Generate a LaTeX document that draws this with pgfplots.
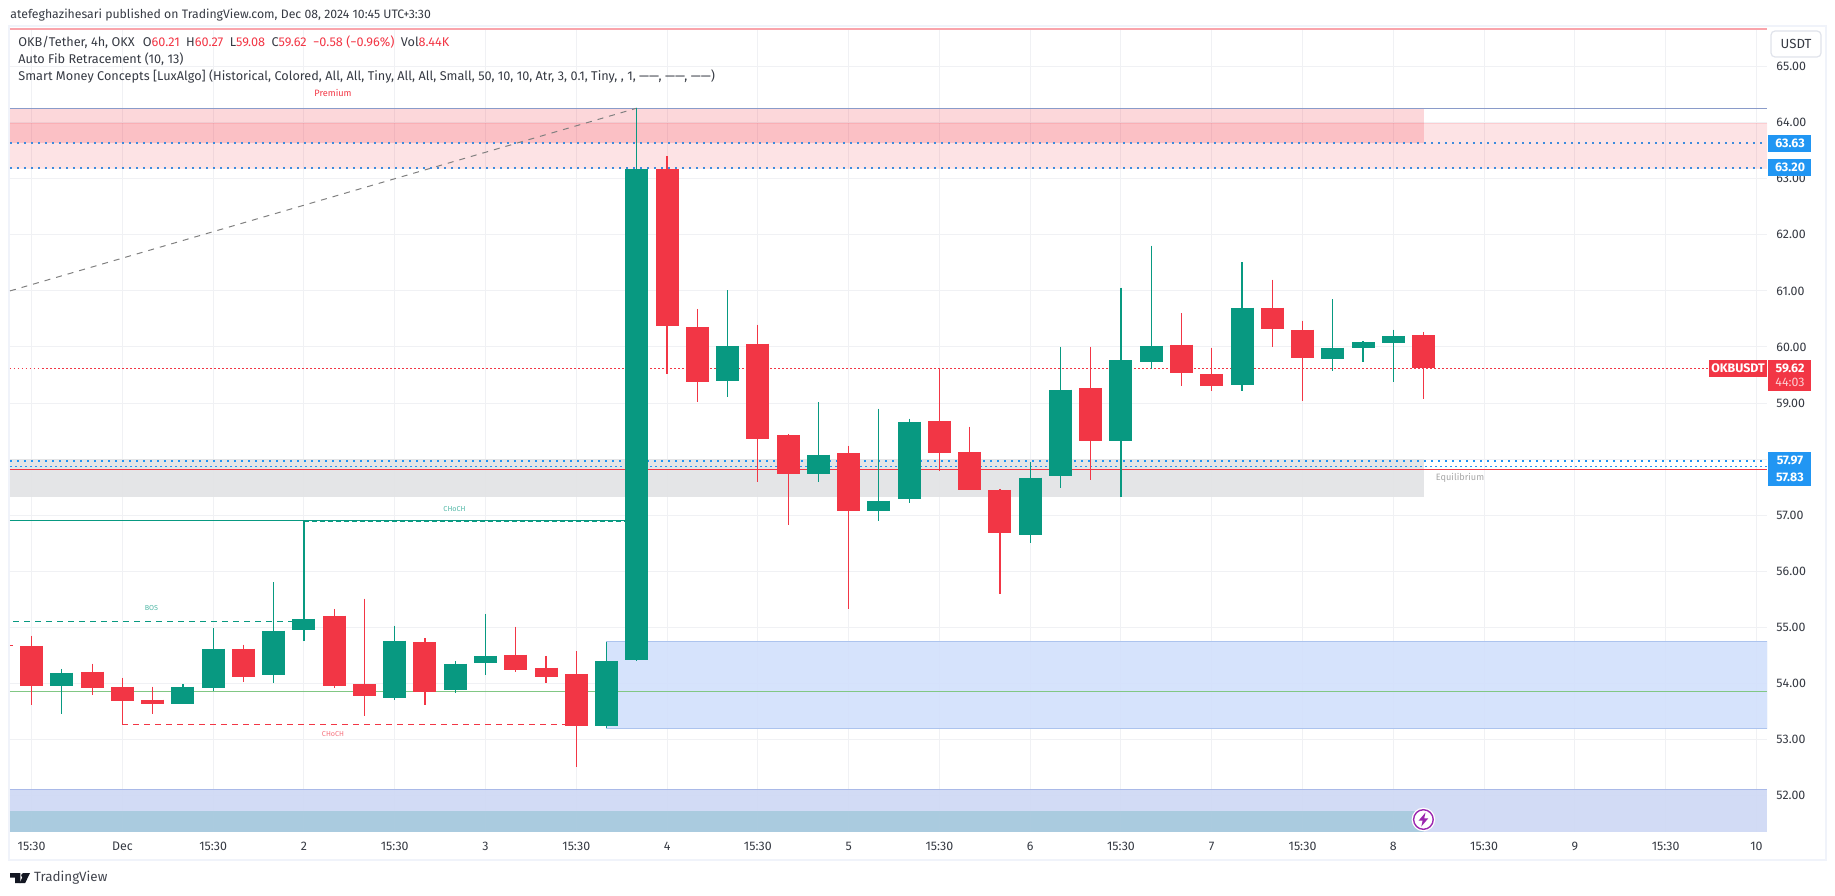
\documentclass[border=0pt]{standalone}
\usepackage{pgfplots}
\usepackage{pgfplotstable}
\usepackage{fontspec}
\pgfplotsset{compat=1.18}
\setmainfont{Fira Sans}

\definecolor{tvgreen}{HTML}{089981}
\definecolor{tvred}{HTML}{F23645}
\definecolor{tvblue}{HTML}{2196F3}
\definecolor{dotblue}{HTML}{3D8BDD}
\definecolor{tvink}{HTML}{131722}
\definecolor{gridc}{HTML}{F0F1F4}
\definecolor{framec}{HTML}{F0F3FA}
\definecolor{btnc}{HTML}{E0E3EB}
\definecolor{zoneblue}{HTML}{D4E1FC}
\definecolor{zoneblueln}{HTML}{ADC4EE}
\definecolor{zonelow}{HTML}{D0D9F4}
\definecolor{zonelowln}{HTML}{A9B9E8}
\definecolor{zoneteal}{HTML}{A9CBDE}
\definecolor{zonegray}{HTML}{E3E4E6}
\definecolor{fibtop}{HTML}{8A9BC9}
\definecolor{lime}{HTML}{81C784}
\definecolor{purp}{HTML}{9C27B0}

\newcommand\fs[1]{\fontsize{#1}{#1}\selectfont}

% bar index, high, low, body top, body bottom
\pgfplotstableread{
i  high  low   top   bot
1  54.26 53.46 54.19 53.95
5  53.98 53.63 53.94 53.63
6  54.98 53.86 54.62 53.91
8  55.80 54.00 54.94 54.14
9  56.89 54.76 55.15 54.95
12 55.03 53.70 54.76 53.73
14 54.40 53.82 54.35 53.88
15 55.24 54.14 54.49 54.36
19 54.74 53.20 54.40 53.23
20 64.26 54.40 63.17 54.42
23 61.01 59.10 60.02 59.39
26 59.01 57.60 58.08 57.74
28 58.90 56.90 57.26 57.08
29 58.72 57.21 58.67 57.28
33 57.95 56.51 57.67 56.65
34 60.00 57.49 59.24 57.69
36 61.06 57.33 59.76 58.33
37 61.81 59.61 60.02 59.74
40 61.51 59.21 60.70 59.33
43 60.85 59.57 59.99 59.78
44 60.10 59.74 60.08 59.98
45 60.31 59.37 60.20 60.07
}\greenbars

\pgfplotstableread{
i  high  low   top   bot
0  54.85 53.62 54.67 53.95
2  54.35 53.80 54.21 53.91
3  54.10 53.27 53.94 53.68
4  53.94 53.46 53.71 53.64
7  54.69 54.02 54.62 54.12
10 55.33 53.91 55.21 53.96
11 55.51 53.41 53.98 53.77
13 54.80 53.61 54.73 53.84
16 55.01 54.21 54.51 54.23
17 54.49 54.00 54.28 54.12
18 54.57 52.50 54.17 53.23
21 63.40 59.51 63.17 60.38
22 60.68 59.01 60.36 59.37
24 60.40 57.60 60.06 58.35
25 58.45 56.83 58.43 57.74
27 58.24 55.32 58.11 57.08
30 59.60 57.78 58.68 58.10
31 58.58 57.44 58.13 57.44
32 57.47 55.60 57.45 56.69
35 60.00 57.62 59.26 58.32
38 60.60 59.30 60.04 59.53
39 59.99 59.21 59.52 59.30
41 61.20 60.00 60.70 60.32
42 60.47 59.03 60.31 59.80
46 60.27 59.08 60.21 59.62
}\redbars

\begin{document}
\begin{tikzpicture}[x=1pt,y=1pt]
\path[use as bounding box] (0,0) rectangle (917.5,447.5);
% pixel coordinates of the screenshot
\begin{scope}[shift={(0,447.5)},x=0.5pt,y=-0.5pt]
  \draw[framec,line width=1pt] (9,26.5) rectangle (1826,860);
\end{scope}

\begin{axis}[
  at={(5pt,31.5pt)},anchor=south west,
  scale only axis,width=878.5pt,height=402pt,
  xmin=-0.714,xmax=57.35,ymin=51.348,ymax=65.69,
  axis line style={draw=none},
  major tick length=0pt,
  grid=major,grid style={gridc,line width=0.5pt},
  xtick={0,3,...,57},
  xticklabels={15:30,Dec,15:30,2,15:30,3,15:30,4,15:30,5,15:30,6,15:30,7,15:30,8,15:30,9,15:30,10},
  ytick={52,...,65},
  yticklabel pos=right,
  /pgf/number format/assume math mode=true,
  /pgf/number format/fixed,/pgf/number format/fixed zerofill,/pgf/number format/precision=2,
  xticklabel style={font=\fs{6.2pt},text=tvink!85,yshift=-1.5pt},
  yticklabel style={font=\fs{6.2pt},text=tvink!85,xshift=1.2pt},
]
% zones
\addplot[fill=tvred,fill opacity=0.2,draw=none] coordinates {(-0.714,64.26)(46,64.26)(46,63.63)(-0.714,63.63)} --cycle;
\addplot[fill=tvred,fill opacity=0.14,draw=tvred,draw opacity=0.12,line width=0.5pt] coordinates {(-0.714,63.99)(57.35,63.99)(57.35,63.19)(-0.714,63.19)} --cycle;
\addplot[fill=zonegray,fill opacity=0.95,draw=none] coordinates {(-0.714,58.00)(46,58.00)(46,57.33)(-0.714,57.33)} --cycle;
\addplot[fill=zoneblue,fill opacity=0.95,draw=zoneblueln,line width=0.5pt] coordinates {(19,54.74)(57.35,54.74)(57.35,53.20)(19,53.20)} --cycle;
\addplot[fill=zonelow,fill opacity=0.95,draw=none] coordinates {(-0.714,52.10)(57.35,52.10)(57.35,51.348)(-0.714,51.348)} --cycle;
\addplot[zonelowln,line width=0.6pt] coordinates {(-0.714,52.10)(57.35,52.10)};
\addplot[fill=zoneteal,fill opacity=0.95,draw=none] coordinates {(-0.714,51.73)(46,51.73)(46,51.348)(-0.714,51.348)} --cycle;

% levels
\addplot[tvred!45,line width=0.8pt] coordinates {(-0.714,65.67)(57.35,65.67)};
\addplot[fibtop,line width=0.6pt] coordinates {(-0.714,64.26)(57.35,64.26)};
\addplot[black!50,line width=0.5pt,dash pattern=on 3pt off 3pt] coordinates {(-0.714,61.00)(20,64.26)};
\addplot[dotblue,line width=1pt,dash pattern=on 1pt off 2.5pt] coordinates {(-0.714,63.63)(57.35,63.63)};
\addplot[dotblue,line width=1pt,dash pattern=on 1pt off 2.5pt] coordinates {(-0.714,63.20)(57.35,63.20)};
\addplot[tvblue,line width=1.1pt,dash pattern=on 1pt off 2.5pt] coordinates {(-0.714,57.97)(57.35,57.97)};
\addplot[tvblue,line width=0.5pt,dash pattern=on 1pt off 1.5pt] coordinates {(-0.714,57.86)(57.35,57.86)};
\addplot[tvred,line width=0.6pt] coordinates {(-0.714,57.82)(57.35,57.82)};
\addplot[tvred,line width=0.5pt,dash pattern=on 0.75pt off 1.25pt] coordinates {(-0.714,59.62)(57.35,59.62)};
\addplot[lime,line width=0.6pt] coordinates {(-0.714,53.85)(57.35,53.85)};

% structure lines
\addplot[tvgreen,line width=0.6pt] coordinates {(-0.714,56.90)(20,56.90)};
\addplot[tvgreen,line width=0.6pt,dash pattern=on 2.5pt off 1.5pt] coordinates {(9,56.88)(20,56.88)};
\addplot[tvgreen,line width=0.5pt,dash pattern=on 3pt off 2.5pt] coordinates {(-0.6,55.10)(9,55.10)};
\addplot[tvred,line width=0.5pt,dash pattern=on 3pt off 2.5pt] coordinates {(3,53.27)(18,53.27)};
\addplot[tvred,line width=0.5pt] coordinates {(-0.714,54.67)(-0.6,54.67)};

% wicks and bodies
\addplot[draw=none,error bars/.cd,y dir=both,y explicit,error mark=none,
  error bar style={tvgreen,line width=0.6pt}]
  table[x=i,y=high,y error plus expr=0,y error minus expr=\thisrow{high}-\thisrow{low}] {\greenbars};
\addplot[draw=none,error bars/.cd,y dir=both,y explicit,error mark=none,
  error bar style={tvred,line width=0.6pt}]
  table[x=i,y=high,y error plus expr=0,y error minus expr=\thisrow{high}-\thisrow{low}] {\redbars};
\addplot[draw=none,error bars/.cd,y dir=both,y explicit,error mark=none,
  error bar style={tvgreen,line width=11.5pt}]
  table[x=i,y=top,y error plus expr=0,y error minus expr=\thisrow{top}-\thisrow{bot}] {\greenbars};
\addplot[draw=none,error bars/.cd,y dir=both,y explicit,error mark=none,
  error bar style={tvred,line width=11.5pt}]
  table[x=i,y=top,y error plus expr=0,y error minus expr=\thisrow{top}-\thisrow{bot}] {\redbars};
\end{axis}

\begin{scope}[shift={(0,447.5)},x=0.5pt,y=-0.5pt]
  % header
  \node[anchor=west,inner sep=0,text=tvink!85,font=\fs{6.13pt}] at (10,15) {atefeghazihesari published on TradingView.com, Dec 08, 2024 10:45 UTC+3:30};
  \node[anchor=west,inner sep=0,text=tvink!85,font=\fs{6.35pt}] at (18,41.7) {OKB/Tether, 4h, OKX\hspace{4pt}O\textcolor{tvred}{60.21}\hspace{3.2pt}H\textcolor{tvred}{60.27}\hspace{3.2pt}L\textcolor{tvred}{59.08}\hspace{3.2pt}C\textcolor{tvred}{59.62}\hspace{3.2pt}\textcolor{tvred}{−0.58 (−0.96\%)}\hspace{3.2pt}Vol\textcolor{tvred}{8.44K}};
  \node[anchor=west,inner sep=0,text=tvink!85,font=\fs{6.35pt}] at (18,59) {Auto Fib Retracement (10, 13)};
  \node[anchor=west,inner sep=0,text=tvink!85,font=\fs{6.35pt}] at (18,76.7) {Smart Money Concepts [LuxAlgo] (Historical, Colored, All, All, Tiny, All, All, Small, 50, 10, 10, Atr, 3, 0.1, Tiny, , 1, ——, ——, ——)};
  % small labels
  \node[text=tvred,font=\fs{4.6pt},inner sep=0] at (333,92.7) {Premium};
  \node[text=tvgreen!70,font=\fs{3.6pt},inner sep=0] at (151.5,608) {BOS};
  \node[text=tvgreen!70,font=\fs{3.6pt},inner sep=0] at (454.5,509) {CHoCH};
  \node[text=tvred!70,font=\fs{3.6pt},inner sep=0] at (333,734) {CHoCH};
  \node[text=black!35,font=\fs{4.6pt},inner sep=0] at (1460,477.7) {Equilibrium};
  % USDT button
  \draw[btnc,line width=0.6pt,fill=white,rounded corners=2pt] (1771,31) rectangle (1821,57);
  \node[text=tvink!85,font=\fs{6.6pt},inner sep=0] at (1796,44) {USDT};
  % price tags
  \fill[tvblue] (1768,135) rectangle (1811,151.7);
  \node[text=white,font=\fs{6.2pt}\bfseries,inner sep=0] at (1790,143.3) {63.63};
  \fill[tvblue] (1768,159) rectangle (1811,175.7);
  \node[text=white,font=\fs{6.2pt}\bfseries,inner sep=0] at (1790,167.4) {63.20};
  \fill[tvblue] (1768,452) rectangle (1811,485.7);
  \node[text=white,font=\fs{6.2pt}\bfseries,inner sep=0] at (1790,460.5) {57.97};
  \node[text=white,font=\fs{6.2pt}\bfseries,inner sep=0] at (1790,477.5) {57.83};
  \fill[tvred] (1709,360) rectangle (1767,376.7);
  \node[text=white,font=\fs{6.2pt}\bfseries,inner sep=0] at (1738,368.4) {OKBUSDT};
  \fill[tvred] (1768,360) rectangle (1811,390.7);
  \node[text=white,font=\fs{6.2pt}\bfseries,inner sep=0] at (1790,368.4) {59.62};
  \node[text=white!75!tvred,font=\fs{6.2pt},inner sep=0] at (1790,382.6) {44:03};
  % lightning badge
  \fill[white] (1423.4,819.5) circle (11.8);
  \draw[purp,line width=0.7pt,fill=white] (1423.4,819.5) circle (9.8);
  \fill[purp] (1425.5,812.5) -- (1418.5,820.7) -- (1422.6,820.7) -- (1421.3,826.5) -- (1428.3,818.3) -- (1424.2,818.3) -- cycle;
  % logo
  \fill[tvink] (10,873) -- (20.3,873) -- (20.3,883) -- (15,883) -- (15,877.6) -- (10,877.6) -- cycle;
  \fill[tvink] (23.6,875.4) circle (2.4);
  \fill[tvink] (30,873) -- (25.2,883) -- (19.6,883) -- (24.4,873) -- cycle;
  \node[anchor=west,inner sep=0,text=tvink!80,font=\fs{6.7pt}] at (33.7,877.5) {TradingView};
\end{scope}
\end{tikzpicture}
\end{document}
